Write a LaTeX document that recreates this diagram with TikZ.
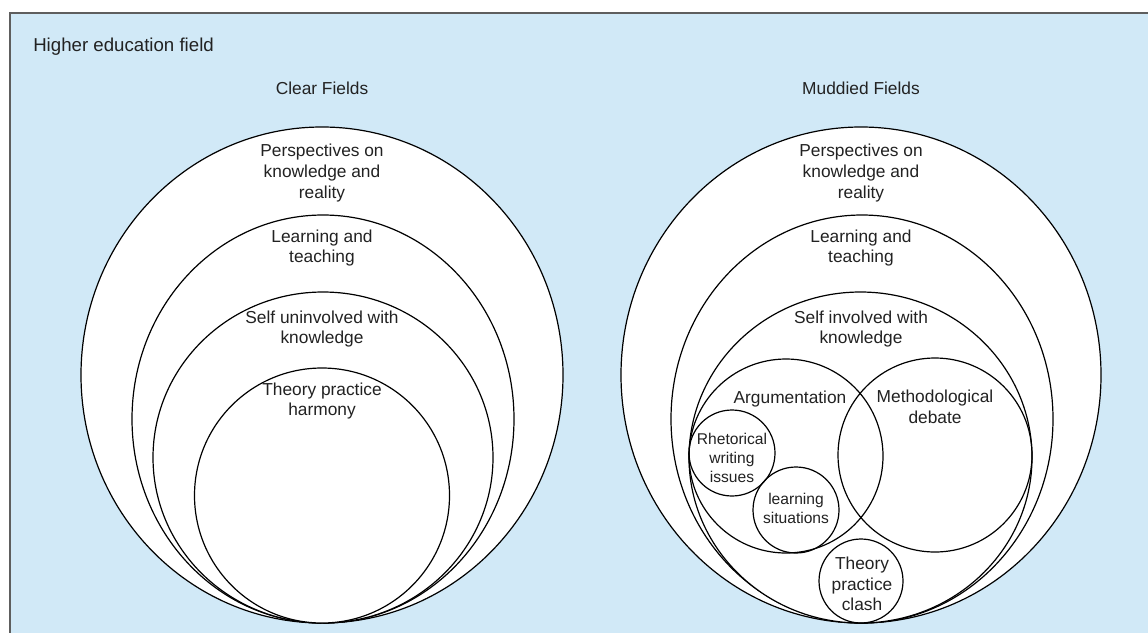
\documentclass[tikz,border=0pt]{standalone}
\usepackage{fontspec}
\setmainfont{Liberation Sans}
\usepackage{xcolor}
\usepackage{tikz}
\usetikzlibrary{positioning}

\definecolor{fieldblue}{HTML}{D1E9F7}
\definecolor{framegray}{HTML}{5E5E5E}
\definecolor{inkgray}{HTML}{222222}

\begin{document}
\begin{tikzpicture}[
  x=0.75pt, y=-0.75pt,
  ring/.style={draw=black, fill=white, line width=0.9pt},
  loop/.style={draw=black, line width=0.9pt},
  lbl/.style={
    font=\fontsize{13}{15.4}\selectfont, align=center,
    text=inkgray, inner sep=0pt
  },
  small/.style={
    font=\fontsize{11.7}{14.2}\selectfont, align=center,
    text=inkgray, inner sep=0pt
  }
]
  \useasboundingbox (0,0) rectangle (1148,632);
  \clip (0,0) rectangle (1148,632);

  % field background
  \draw[fill=fieldblue, draw=framegray, line width=1pt]
    (10,13) rectangle (1160,645);
  \node[anchor=west, font=\fontsize{14}{16}\selectfont, text=inkgray,
        inner sep=0pt] (field) at (33,47) {Higher education field};

  % clear fields
  \node[lbl] (clear) at (322,88) {Clear Fields};
  \draw[ring] (322,375) ellipse [x radius=241, y radius=248];
  \draw[ring] (323,419) ellipse [x radius=191, y radius=204];
  \draw[ring] (323,457.5) ellipse [x radius=170, y radius=165.5];
  \draw[ring] (322,495.5) ellipse [x radius=127.5, y radius=127.5];
  \node[lbl] (persL) at (322,173) {Perspectives on\\knowledge and\\reality};
  \node[lbl] (learnL) at (322,248) {Learning and\\teaching};
  \node[lbl] (selfL) at (322,329) {Self uninvolved with\\knowledge};
  \node[lbl] (harmony) at (322,401) {Theory practice\\harmony};

  % muddied fields
  \node[lbl] (muddied) at (861,88) {Muddied Fields};
  \draw[ring] (861,375) ellipse [x radius=240, y radius=248];
  \draw[ring] (862,419) ellipse [x radius=191, y radius=204];
  \draw[ring] (860.5,457.5) ellipse [x radius=171.5, y radius=165.5];
  \draw[loop] (786,456) circle [radius=97];
  \draw[loop] (935,455) circle [radius=97];
  \draw[loop] (732,453) circle [radius=43];
  \draw[loop] (796,510) circle [radius=43];
  \draw[loop] (861,581) circle [radius=42];
  \node[lbl] (persR) at (861,173) {Perspectives on\\knowledge and\\reality};
  \node[lbl] (learnR) at (861,248) {Learning and\\teaching};
  \node[lbl] (selfR) at (861,329) {Self involved with\\knowledge};
  \node[lbl] (argue) at (790,399) {Argumentation};
  \node[lbl] (method) at (935,407) {Methodological\\debate};
  \node[small] (rhetoric) at (732,458) {Rhetorical\\writing\\issues};
  \node[small] (situation) at (796,508) {learning\\situations};
  \node[lbl] (clash) at (862,584) {Theory\\practice\\clash};
\end{tikzpicture}
\end{document}
